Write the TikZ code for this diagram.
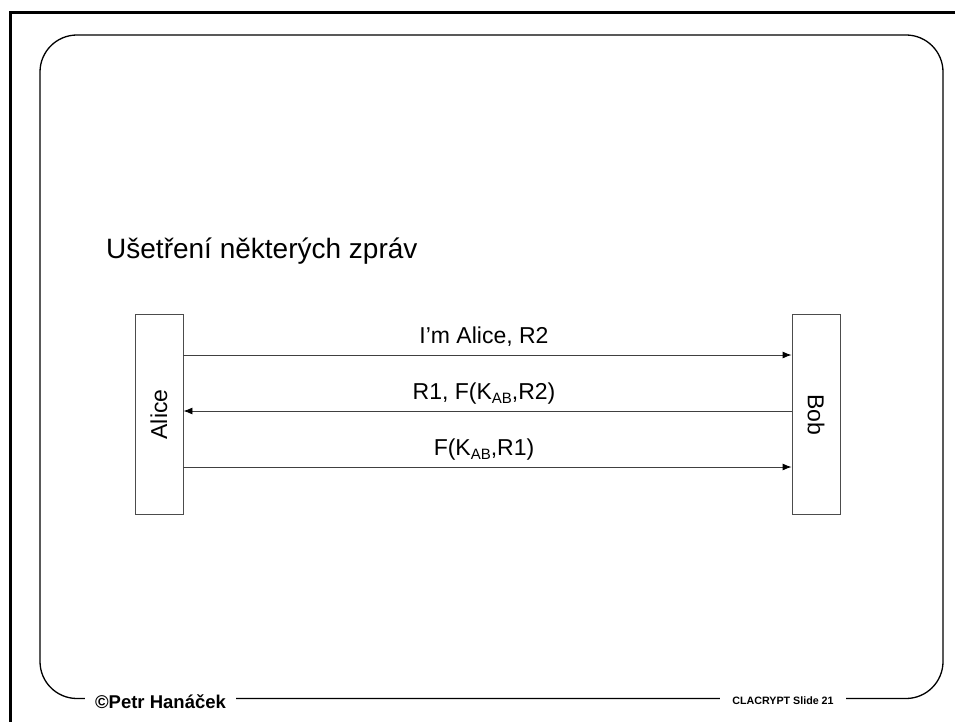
\documentclass[tikz,border=0pt]{standalone}
\usepackage{fontspec}
\setmainfont{Liberation Sans}
\usetikzlibrary{arrows.meta}

\tikzset{
  party/.style={draw=black!70, line width=0.9pt, fill=white, inner sep=0pt,
                font=\fontsize{23}{27}\selectfont},
  msg/.style={draw=black!75, line width=0.9pt,
              -{Latex[length=9pt,width=7pt,color=black]}},
  msglabel/.style={anchor=base, inner sep=0pt, font=\fontsize{23}{27}\selectfont},
  footer/.style={fill=white, inner ysep=2pt, font=\bfseries}
}
\newcommand{\subAB}{\raisebox{-0.35ex}{\fontsize{15}{18}\selectfont AB}}

\begin{document}
\begin{tikzpicture}[x=1pt,y=-1pt]
\useasboundingbox (0,0) rectangle (955,722);

% slide frame
\draw[line width=3pt] (10,722) -- (10,13) -- (955,13);
\draw[line width=1.3pt, rounded corners=37pt] (40,35) rectangle (943,698.5);

% title
\node[anchor=base west, inner sep=0pt, font=\fontsize{28}{34}\selectfont]
  (title) at (106,258) {Ušetření některých zpráv};

% parties
\node[party, rotate=90, minimum width=200pt, minimum height=48pt] (alice) at (159,414.5) {Alice};
\node[party, rotate=-90, minimum width=200pt, minimum height=48pt] (bob) at (816,414.5) {Bob};

% message rows
\coordinate (m1) at (0,355);
\coordinate (m2) at (0,411);
\coordinate (m3) at (0,467);

\draw[msg] (alice.south |- m1) -- (bob.south |- m1);
\draw[msg] (bob.south |- m2) -- (alice.south |- m2);
\draw[msg] (alice.south |- m3) -- (bob.south |- m3);

\node[msglabel] (l1) at (484,343) {I’m Alice, R2};
\node[msglabel] (l2) at (484,399) {R1, F(K\subAB,R2)};
\node[msglabel] (l3) at (484,455) {F(K\subAB,R1)};

% footer
\node[footer, inner xsep=10pt, font=\bfseries\fontsize{18.5}{22}\selectfont]
  (author) at (160.5,701.5) {©Petr Hanáček};
\node[footer, inner xsep=12pt, font=\bfseries\fontsize{10.7}{12}\selectfont]
  (slide) at (783,700.5) {CLACRYPT Slide 21};
\end{tikzpicture}
\end{document}
